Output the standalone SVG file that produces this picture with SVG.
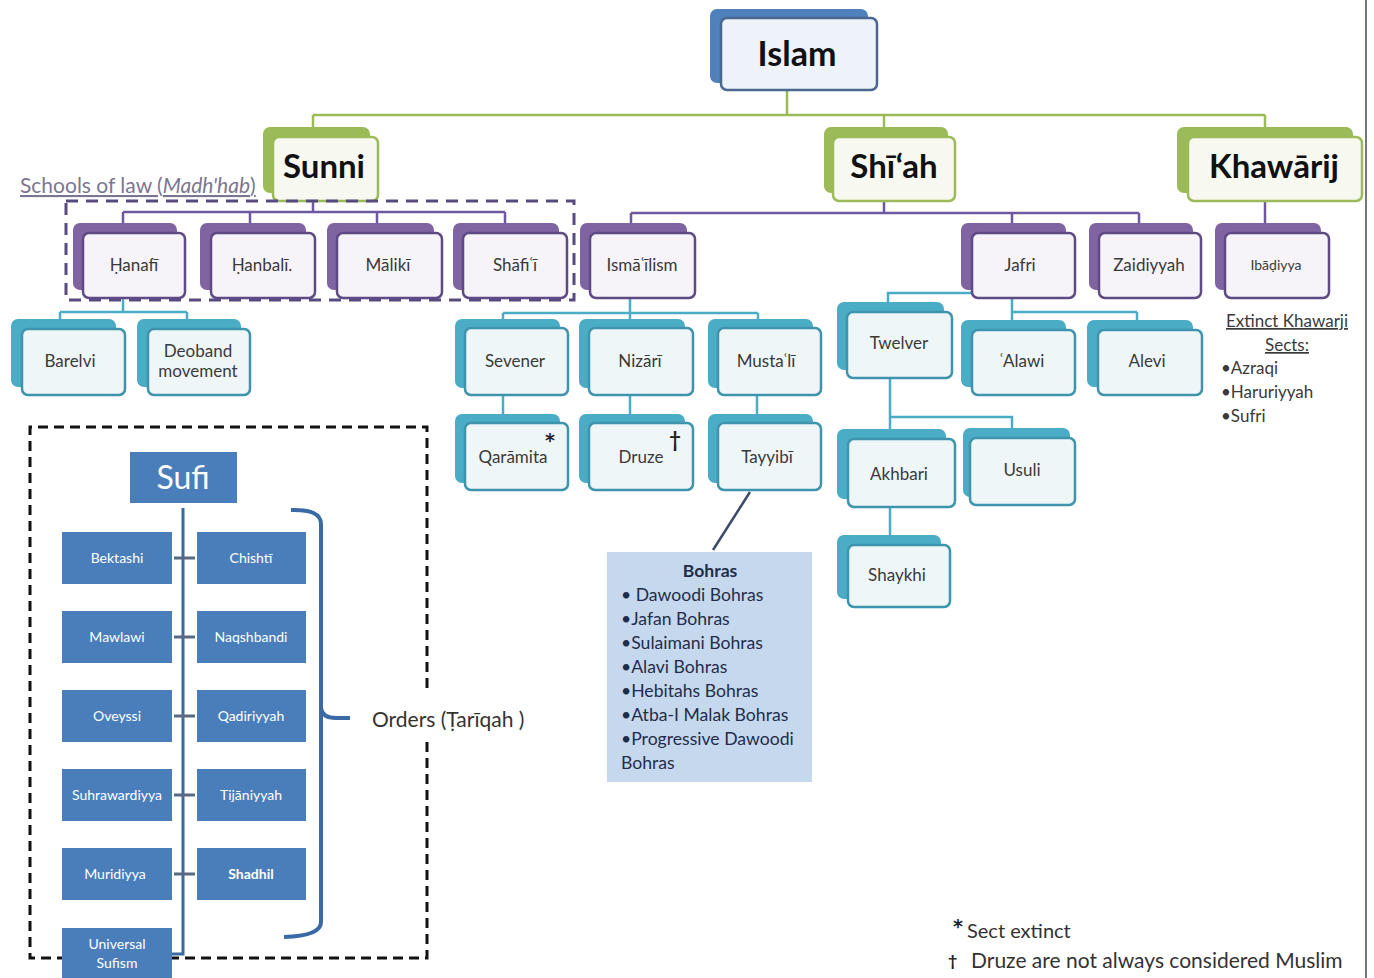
<svg xmlns="http://www.w3.org/2000/svg" width="1374" height="978" viewBox="0 0 1374 978">
<style>
text{font-family:Lato,"Open Sans","Liberation Sans",sans-serif;}
.bb{fill:#4f81bd;stroke:#4f81bd;stroke-width:2}
.bf{fill:#eef2f9;stroke:#4a6890;stroke-width:2.5}
.gb{fill:#9bbb59;stroke:#9bbb59;stroke-width:2}
.gf{fill:#f7f9f1;stroke:#9bbb59;stroke-width:2.5}
.pb{fill:#8064a2;stroke:#8064a2;stroke-width:2}
.pf{fill:#f6f3f9;stroke:#5e4a85;stroke-width:2.5}
.tb{fill:#4bacc6;stroke:#4bacc6;stroke-width:2}
.tf{fill:#eef6f8;stroke:#3f94ad;stroke-width:2.5}
.big{font-size:33px;font-weight:bold;fill:#111;text-anchor:middle}
.nt{font-size:17px;fill:#3a3a3a;text-anchor:middle}
.sb{fill:#4a7ebb}
.st{font-size:14px;fill:#ffffff;text-anchor:middle}
.gl{stroke:#9bbb59;stroke-width:2.5;fill:none}
.pl{stroke:#6e58a0;stroke-width:2.5;fill:none}
.tl{stroke:#4bacc6;stroke-width:2.5;fill:none}
.bo{font-size:17.6px;fill:#1f2d4a}
.kh{font-size:17px;fill:#3a3a3a}
.ast{font-family:"DejaVu Sans",sans-serif;font-weight:bold;fill:#222;text-anchor:middle}
</style>

<line x1="1366" y1="0" x2="1366" y2="978" stroke="#777" stroke-width="2"/>

<g id="connectors">
  <path class="gl" d="M787 90V115M313 115H1265M313 115V128M884 115V128M1265 115V128"/>
  <path class="pl" d="M313 201V212M123 212H505M123 212V224M250 212V224M377 212V224M505 212V224"/>
  <path class="pl" d="M884 201V213M631 213H1139M631 213V224M1012 213V224M1139 213V224M1265 201V224"/>
  <path class="tl" d="M123 298V312M60 312H187M60 312V320M187 312V320"/>
  <path class="tl" d="M630 298V313M503 313H758M503 313V320M630 313V320M758 313V320"/>
  <path class="tl" d="M503 395V414M630 395V414M757 395V414"/>
  <path class="tl" d="M888 303V293H972M1012 298V312H1137M1012 312V321M1137 312V321"/>
  <path class="tl" d="M890 378V430M890 417H1012V429M890 507V536"/>
  <path d="M750 492L713 550" stroke="#3b4a6b" stroke-width="2.5" fill="none"/>
</g>

<g id="islam"><rect class="bb" x="711" y="10" width="156" height="72" rx="6"/><rect class="bf" x="721" y="18" width="156" height="72" rx="6"/><text class="big" x="797" y="66" style="font-size:34px">Islam</text></g>

<g id="sunni"><rect class="gb" x="264" y="128" width="105" height="64" rx="6"/><rect class="gf" x="273" y="137" width="105" height="64" rx="6"/><text class="big" x="324" y="178">Sunni</text></g>
<g id="shiah"><rect class="gb" x="825" y="128" width="122" height="64" rx="6"/><rect class="gf" x="833" y="137" width="122" height="64" rx="6"/><text class="big" x="894" y="178">Shī‘ah</text></g>
<g id="khawarij"><rect class="gb" x="1178" y="128" width="174" height="64" rx="6"/><rect class="gf" x="1188" y="137" width="174" height="64" rx="6"/><text class="big" x="1274" y="178">Khawārij</text></g>

<text x="20" y="193" style="font-size:21px;fill:#7b7690;text-decoration:underline">Schools of law (<tspan font-style="italic">Madh'hab</tspan>)</text>
<rect x="66" y="201" width="508" height="99" fill="none" stroke="#574a80" stroke-width="3" stroke-dasharray="12 8"/>

<g id="hanafi"><rect class="pb" x="74" y="224" width="102" height="65" rx="6"/><rect class="pf" x="83" y="233" width="102" height="65" rx="6"/><text class="nt" x="134" y="271">Ḥanafī</text></g>
<g id="hanbali"><rect class="pb" x="201" y="224" width="104" height="65" rx="6"/><rect class="pf" x="211" y="233" width="104" height="65" rx="6"/><text class="nt" x="262" y="271">Ḥanbalī.</text></g>
<g id="maliki"><rect class="pb" x="328" y="224" width="105" height="65" rx="6"/><rect class="pf" x="337" y="233" width="105" height="65" rx="6"/><text class="nt" x="388" y="271">Mālikī</text></g>
<g id="shafii"><rect class="pb" x="454" y="224" width="104" height="65" rx="6"/><rect class="pf" x="463" y="233" width="104" height="65" rx="6"/><text class="nt" x="515" y="271">Shāfiʿī</text></g>
<g id="ismailism"><rect class="pb" x="581" y="224" width="105" height="65" rx="6"/><rect class="pf" x="590" y="233" width="105" height="65" rx="6"/><text class="nt" x="642" y="271">Ismāʿīlism</text></g>
<g id="jafri"><rect class="pb" x="962" y="224" width="103" height="65" rx="6"/><rect class="pf" x="972" y="233" width="103" height="65" rx="6"/><text class="nt" x="1020" y="271">Jafri</text></g>
<g id="zaidiyyah"><rect class="pb" x="1090" y="224" width="102" height="65" rx="6"/><rect class="pf" x="1099" y="233" width="102" height="65" rx="6"/><text class="nt" x="1149" y="271">Zaidiyyah</text></g>
<g id="ibadiyya"><rect class="pb" x="1216" y="224" width="104" height="65" rx="6"/><rect class="pf" x="1225" y="233" width="104" height="65" rx="6"/><text class="nt" x="1276" y="270" style="font-size:14px">Ibāḍiyya</text></g>

<g id="barelvi"><rect class="tb" x="12" y="320" width="103" height="66" rx="6"/><rect class="tf" x="22" y="329" width="103" height="66" rx="6"/><text class="nt" x="70" y="367">Barelvi</text></g>
<g id="deoband"><rect class="tb" x="138" y="320" width="102" height="66" rx="6"/><rect class="tf" x="148" y="329" width="102" height="66" rx="6"/><text class="nt" x="198" y="357">Deoband</text><text class="nt" x="198" y="377">movement</text></g>

<g id="sevener"><rect class="tb" x="456" y="320" width="103" height="67" rx="6"/><rect class="tf" x="465" y="328" width="103" height="67" rx="6"/><text class="nt" x="515" y="367">Sevener</text></g>
<g id="nizari"><rect class="tb" x="580" y="320" width="104" height="67" rx="6"/><rect class="tf" x="589" y="328" width="104" height="67" rx="6"/><text class="nt" x="640" y="367">Nizārī</text></g>
<g id="mustali"><rect class="tb" x="709" y="320" width="103" height="67" rx="6"/><rect class="tf" x="718" y="328" width="103" height="67" rx="6"/><text class="nt" x="766" y="367">Mustaʿlī</text></g>
<g id="qaramita"><rect class="tb" x="456" y="415" width="103" height="67" rx="6"/><rect class="tf" x="465" y="423" width="103" height="67" rx="6"/><text class="nt" x="513" y="463">Qarāmita</text><text class="ast" x="550" y="447" style="font-size:19px">*</text></g>
<g id="druze"><rect class="tb" x="580" y="415" width="104" height="67" rx="6"/><rect class="tf" x="589" y="423" width="104" height="67" rx="6"/><text class="nt" x="641" y="463">Druze</text><text x="675" y="447" style="font-size:20px;font-weight:bold;fill:#222;text-anchor:middle">†</text></g>
<g id="tayyibi"><rect class="tb" x="709" y="415" width="103" height="67" rx="6"/><rect class="tf" x="718" y="423" width="103" height="67" rx="6"/><text class="nt" x="767" y="463">Tayyibī</text></g>

<g id="twelver"><rect class="tb" x="838" y="303" width="105" height="66" rx="6"/><rect class="tf" x="847" y="312" width="105" height="66" rx="6"/><text class="nt" x="899" y="349">Twelver</text></g>
<g id="alawi"><rect class="tb" x="962" y="321" width="103" height="65" rx="6"/><rect class="tf" x="972" y="330" width="103" height="65" rx="6"/><text class="nt" x="1022" y="367">ʿAlawi</text></g>
<g id="alevi"><rect class="tb" x="1088" y="321" width="104" height="65" rx="6"/><rect class="tf" x="1098" y="330" width="104" height="65" rx="6"/><text class="nt" x="1147" y="367">Alevi</text></g>
<g id="akhbari"><rect class="tb" x="838" y="430" width="107" height="68" rx="6"/><rect class="tf" x="848" y="439" width="107" height="68" rx="6"/><text class="nt" x="899" y="480">Akhbari</text></g>
<g id="usuli"><rect class="tb" x="964" y="429" width="105" height="67" rx="6"/><rect class="tf" x="970" y="438" width="105" height="67" rx="6"/><text class="nt" x="1022" y="476">Usuli</text></g>
<g id="shaykhi"><rect class="tb" x="838" y="536" width="102" height="62" rx="6"/><rect class="tf" x="848" y="545" width="102" height="62" rx="6"/><text class="nt" x="897" y="581">Shaykhi</text></g>

<g id="bohras">
  <rect x="607" y="552" width="205" height="230" fill="#c6d8ed"/>
  <text class="bo" x="710" y="577" style="font-weight:bold;text-anchor:middle">Bohras</text>
  <text class="bo" x="621" y="601">• Dawoodi Bohras</text>
  <text class="bo" x="621" y="625">•Jafan Bohras</text>
  <text class="bo" x="621" y="649">•Sulaimani Bohras</text>
  <text class="bo" x="621" y="673">•Alavi Bohras</text>
  <text class="bo" x="621" y="697">•Hebitahs Bohras</text>
  <text class="bo" x="621" y="721">•Atba-I Malak Bohras</text>
  <text class="bo" x="621" y="745">•Progressive Dawoodi</text>
  <text class="bo" x="621" y="769">Bohras</text>
</g>

<g id="extinct-khawarij">
  <text class="kh" x="1287" y="327" style="text-anchor:middle;text-decoration:underline">Extinct Khawarji</text>
  <text class="kh" x="1287" y="351" style="text-anchor:middle;text-decoration:underline">Sects:</text>
  <text class="kh" x="1221" y="374">•Azraqi</text>
  <text class="kh" x="1221" y="398">•Haruriyyah</text>
  <text class="kh" x="1221" y="422">•Sufri</text>
</g>

<g id="sufi-group">
  <path d="M427 688V427H30V958H427V742" fill="none" stroke="#111" stroke-width="3" stroke-dasharray="10 6"/>
  <path d="M183 508V954H172" fill="none" stroke="#3b6a9e" stroke-width="3"/>
  <path d="M174 558H195M174 637H195M174 716H195M174 795H195M174 874H195" stroke="#5a6a80" stroke-width="3"/>
  <g id="sufi"><rect class="sb" x="130" y="452" width="107" height="51"/><text x="183" y="489" style="font-size:32px;fill:#fff;text-anchor:middle">Sufi</text></g>
  <g id="bektashi"><rect class="sb" x="62" y="532" width="110" height="52"/><text class="st" x="117" y="563">Bektashi</text></g>
  <g id="chishti"><rect class="sb" x="197" y="532" width="109" height="52"/><text class="st" x="251" y="563">Chishtī</text></g>
  <g id="mawlawi"><rect class="sb" x="62" y="611" width="110" height="52"/><text class="st" x="117" y="642">Mawlawi</text></g>
  <g id="naqshbandi"><rect class="sb" x="197" y="611" width="109" height="52"/><text class="st" x="251" y="642">Naqshbandi</text></g>
  <g id="oveyssi"><rect class="sb" x="62" y="690" width="110" height="52"/><text class="st" x="117" y="721">Oveyssi</text></g>
  <g id="qadiriyyah"><rect class="sb" x="197" y="690" width="109" height="52"/><text class="st" x="251" y="721">Qadiriyyah</text></g>
  <g id="suhrawardiyya"><rect class="sb" x="62" y="769" width="110" height="52"/><text class="st" x="117" y="800">Suhrawardiyya</text></g>
  <g id="tijaniyyah"><rect class="sb" x="197" y="769" width="109" height="52"/><text class="st" x="251" y="800">Tijāniyyah</text></g>
  <g id="muridiyya"><rect class="sb" x="62" y="848" width="110" height="52"/><text class="st" x="115" y="879">Muridiyya</text></g>
  <g id="shadhil"><rect class="sb" x="197" y="848" width="109" height="52"/><text class="st" x="251" y="879" style="font-weight:bold">Shadhil</text></g>
  <g id="universal"><rect class="sb" x="62" y="928" width="110" height="52"/><text class="st" x="117" y="949">Universal</text><text class="st" x="117" y="968">Sufism</text></g>
  <path d="M291 510Q321 509 321 524V922Q321 936 284 937" fill="none" stroke="#3a6aa6" stroke-width="4"/>
  <path d="M321 708Q322 718 336 718H350" fill="none" stroke="#3a6aa6" stroke-width="4"/>
  <text x="372" y="727" style="font-size:21px;fill:#333">Orders (Ṭarīqah )</text>
</g>

<g id="footnotes">
  <text class="ast" x="958" y="933" style="font-size:19px">*</text>
  <text x="967" y="938" style="font-size:20px;fill:#333">Sect extinct</text>
  <text x="948" y="966" style="font-size:16px;font-weight:bold;fill:#222">†</text>
  <text x="971" y="968" style="font-size:21px;fill:#333">Druze are not always considered Muslim</text>
</g>
</svg>
